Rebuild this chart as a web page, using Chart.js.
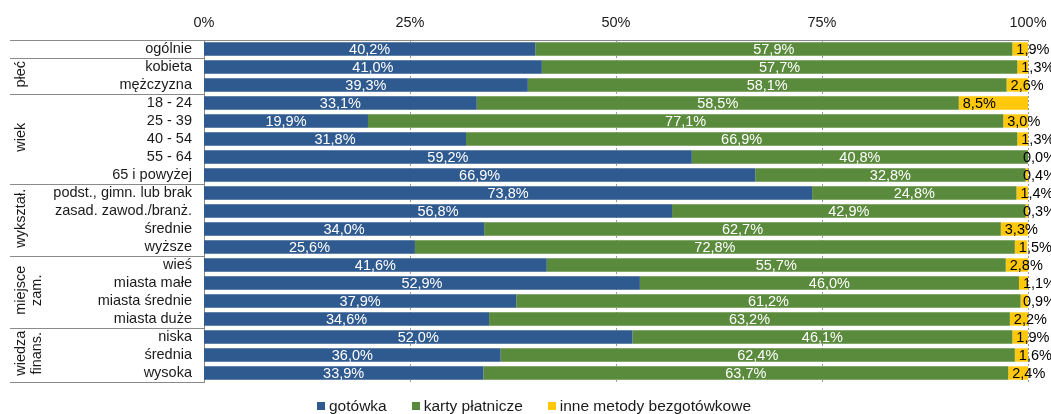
<!DOCTYPE html>
<html lang="pl">
<head>
<meta charset="utf-8">
<script src="https://cdn.jsdelivr.net/npm/chart.js@4.4.1/dist/chart.umd.min.js"></script>
<style>
  html, body { margin: 0; padding: 0; background: #fff; }
  #wrap { width: 1051px; height: 414px; position: relative; }
</style>
</head>
<body>
<div id="wrap"><canvas id="myChart"></canvas></div>
<script>
const categories = [
  'ogólnie',
  'kobieta', 'mężczyzna',
  '18 - 24', '25 - 39', '40 - 54', '55 - 64', '65 i powyżej',
  'podst., gimn. lub brak', 'zasad. zawod./branż.', 'średnie', 'wyższe',
  'wieś', 'miasta małe', 'miasta średnie', 'miasta duże',
  'niska', 'średnia', 'wysoka'
];
const gotowka = [40.2, 41.0, 39.3, 33.1, 19.9, 31.8, 59.2, 66.9, 73.8, 56.8, 34.0, 25.6, 41.6, 52.9, 37.9, 34.6, 52.0, 36.0, 33.9];
const karty   = [57.9, 57.7, 58.1, 58.5, 77.1, 66.9, 40.8, 32.8, 24.8, 42.9, 62.7, 72.8, 55.7, 46.0, 61.2, 63.2, 46.1, 62.4, 63.7];
const inne    = [1.9, 1.3, 2.6, 8.5, 3.0, 1.3, 0.0, 0.4, 1.4, 0.3, 3.3, 1.5, 2.8, 1.1, 0.9, 2.2, 1.9, 1.6, 2.4];
const seriesNames = ['gotówka', 'karty płatnicze', 'inne metody bezgotówkowe'];
const xTicks = [0, 25, 50, 75, 100];

// row groups: label lines, first row index, last row index
const groups = [
  { lines: [''], from: 0, to: 0 },
  { lines: ['płeć'], from: 1, to: 2 },
  { lines: ['wiek'], from: 3, to: 7 },
  { lines: ['wykształ.'], from: 8, to: 11 },
  { lines: ['miejsce', 'zam.'], from: 12, to: 15 },
  { lines: ['wiedza', 'finans.'], from: 16, to: 18 }
];

const FONT = '"Liberation Sans", Arial, sans-serif';
const TEXT = '#1a1a1a';
const LINE = '#8a8a8a';
const fmt = v => v.toFixed(1).replace('.', ',') + '%';

// dotted vertical grid behind the bars
const dottedGrid = {
  id: 'dottedGrid',
  beforeDatasetsDraw(chart) {
    const ctx = chart.ctx;
    const x = chart.scales.x;
    const area = chart.chartArea;
    ctx.save();
    ctx.strokeStyle = '#9a9a9a';
    ctx.lineWidth = 1;
    ctx.setLineDash([2, 2]);
    xTicks.slice(1).forEach(v => {
      const px = Math.round(x.getPixelForValue(v)) + 0.5;
      ctx.beginPath();
      ctx.moveTo(px, area.top);
      ctx.lineTo(px, area.bottom);
      ctx.stroke();
    });
    ctx.restore();
  }
};

const valueLabels = {
  id: 'valueLabels',
  afterDatasetsDraw(chart) {
    const ctx = chart.ctx;
    const area = chart.chartArea;
    ctx.save();
    ctx.font = '14.5px ' + FONT;
    ctx.textBaseline = 'middle';
    chart.data.datasets.forEach((ds, di) => {
      const meta = chart.getDatasetMeta(di);
      meta.data.forEach((bar, i) => {
        const v = ds.data[i];
        const start = Math.min(bar.x, bar.base);
        const end = Math.max(bar.x, bar.base);
        if (di < 2) {
          ctx.fillStyle = '#ffffff';
          ctx.textAlign = 'center';
          ctx.fillText(fmt(v), (start + end) / 2, bar.y + 1);
        } else {
          ctx.fillStyle = '#000000';
          ctx.textAlign = 'left';
          ctx.fillText(fmt(v), Math.min(start + 4, area.right - 5), bar.y + 1);
        }
      });
    });
    ctx.restore();
  }
};

const groupLabels = {
  id: 'groupLabels',
  afterDraw(chart) {
    const ctx = chart.ctx;
    const y = chart.scales.y;
    const area = chart.chartArea;
    const half = (y.getPixelForValue(1) - y.getPixelForValue(0)) / 2;
    const left = 10;
    ctx.save();
    ctx.strokeStyle = LINE;
    ctx.lineWidth = 1;
    ctx.beginPath();
    ctx.moveTo(left, Math.round(area.top) + 0.5);
    ctx.lineTo(area.right, Math.round(area.top) + 0.5);
    ctx.stroke();
    groups.forEach(g => {
      const bottom = Math.round(y.getPixelForValue(g.to) + half) + 0.5;
      ctx.beginPath();
      ctx.moveTo(left, bottom);
      ctx.lineTo(area.left, bottom);
      ctx.stroke();
      const top = y.getPixelForValue(g.from) - half;
      const mid = (top + bottom) / 2 - 2;
      ctx.fillStyle = TEXT;
      ctx.font = '14.5px ' + FONT;
      ctx.textAlign = 'center';
      ctx.textBaseline = 'middle';
      g.lines.forEach((t, k) => {
        ctx.save();
        ctx.translate(21 + k * 16, mid);
        ctx.rotate(-Math.PI / 2);
        ctx.fillText(t, 0, 0);
        ctx.restore();
      });
    });
    ctx.restore();
  }
};

// legend row under the plot
const bottomLegend = {
  id: 'bottomLegend',
  afterDraw(chart) {
    const ctx = chart.ctx;
    const box = 8, gapText = 4, gapItem = 25, cy = 406;
    ctx.save();
    ctx.font = '15.5px ' + FONT;
    ctx.textBaseline = 'middle';
    ctx.textAlign = 'left';
    const items = chart.data.datasets.map(ds => ({ text: ds.label, color: ds.backgroundColor }));
    const widths = items.map(it => box + gapText + ctx.measureText(it.text).width);
    const total = widths.reduce((a, b) => a + b, 0) + gapItem * (items.length - 1);
    let x = 534 - total / 2;
    items.forEach((it, i) => {
      ctx.fillStyle = it.color;
      ctx.fillRect(Math.round(x), cy - 4, box, box);
      ctx.fillStyle = TEXT;
      ctx.fillText(it.text, x + box + gapText, cy + 1);
      x += widths[i] + gapItem;
    });
    ctx.restore();
  }
};

new Chart(document.getElementById('myChart'), {
  type: 'bar',
  data: {
    labels: categories,
    datasets: [
      { label: seriesNames[0], data: gotowka, backgroundColor: '#2f5a8f' },
      { label: seriesNames[1], data: karty, backgroundColor: '#5a8a3c' },
      { label: seriesNames[2], data: inne, backgroundColor: '#ffc80a' }
    ]
  },
  options: {
    indexAxis: 'y',
    responsive: true,
    maintainAspectRatio: false,
    animation: false,
    datasets: { bar: { barPercentage: 0.74, categoryPercentage: 1 } },
    layout: { padding: { left: 0, right: 23, top: 0, bottom: 32 } },
    scales: {
      x: {
        position: 'top',
        stacked: true,
        min: 0,
        max: 100,
        afterBuildTicks: s => { s.ticks = xTicks.map(v => ({ value: v })); },
        afterFit: s => { s.height = 40; s.paddingLeft = 0; s.paddingRight = 0; },
        ticks: {
          color: TEXT,
          font: { family: FONT, size: 14.5 },
          padding: 8,
          callback: v => v + '%'
        },
        grid: { display: false, drawTicks: false },
        border: { display: false }
      },
      y: {
        stacked: true,
        afterFit: s => { s.width = 204; },
        ticks: {
          color: TEXT,
          font: { family: FONT, size: 14.5 },
          padding: 12,
          autoSkip: false
        },
        grid: { display: false, drawTicks: false },
        border: { display: true, color: LINE }
      }
    },
    plugins: {
      tooltip: { enabled: false },
      legend: { display: false }
    }
  },
  plugins: [dottedGrid, valueLabels, groupLabels, bottomLegend]
});
</script>
</body>
</html>
